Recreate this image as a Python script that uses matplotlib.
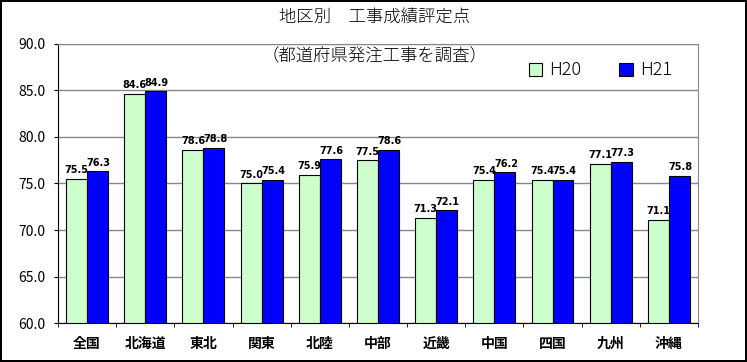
import numpy as np
import matplotlib.pyplot as plt

plt.rcParams['font.family'] = ['Noto Sans CJK JP', 'DejaVu Sans']

regions = ['全国', '北海道', '東北', '関東', '北陸', '中部', '近畿', '中国', '四国', '九州', '沖縄']
h20 = [75.5, 84.6, 78.6, 75.0, 75.9, 77.5, 71.3, 75.4, 75.4, 77.1, 71.1]
h21 = [76.3, 84.9, 78.8, 75.4, 77.6, 78.6, 72.1, 76.2, 75.4, 77.3, 75.8]
yticks = [60.0, 65.0, 70.0, 75.0, 80.0, 85.0, 90.0]

fig = plt.figure(figsize=(7.47, 3.62), dpi=100)
fig.patch.set_edgecolor('black')
fig.patch.set_linewidth(1.5)
ax = fig.add_axes([0.0776, 0.1077, 0.8568, 0.7708])

x = np.arange(len(regions))
w = 0.36
ax.bar(x - w / 2, np.array(h20) - 60, w, bottom=60, color='#ccffcc', edgecolor='black', linewidth=0.8, label='H20', zorder=3)
ax.bar(x + w / 2, np.array(h21) - 60, w, bottom=60, color='#0000ff', edgecolor='black', linewidth=0.8, label='H21', zorder=3)

# 値ラベル
for xi, v in zip(x, h20):
    ax.text(xi - w / 2, v + 0.4, f'{v:.1f}', ha='center', va='bottom', fontsize=7, fontweight='bold', family='Liberation Sans Narrow')
for xi, v in zip(x, h21):
    ax.text(xi + w / 2 + 0.02, v + 0.4, f'{v:.1f}', ha='center', va='bottom', fontsize=7, fontweight='bold', family='Liberation Sans Narrow')

ax.set_xlim(-0.5, len(regions) - 0.5)
ax.set_ylim(60, 90)
ax.set_yticks(yticks)
ax.set_yticklabels([f'{t:.1f}' for t in yticks], fontsize=10)
ax.yaxis.grid(True, color='#888888', linewidth=1, zorder=0)
ax.set_xticks(x)
ax.set_xticklabels(regions, fontsize=10, fontweight='bold')
ax.set_xticks(np.arange(-0.5, len(regions)), minor=True)
ax.tick_params(axis='x', which='major', length=0, pad=10)
ax.tick_params(axis='x', which='minor', length=3, direction='out')
ax.tick_params(axis='y', length=3, direction='out', pad=6)

ax.spines['top'].set_color('#888888')
ax.spines['right'].set_color('#888888')
ax.spines['left'].set_color('black')
ax.spines['bottom'].set_color('black')

fig.text(0.502, 0.953, '地区別　工事成績評定点', ha='center', va='center', fontsize=12.5, fontweight='light')
fig.text(0.502, 0.845, '（都道府県発注工事を調査）', ha='center', va='center', fontsize=12.5, fontweight='light')

leg = ax.legend(loc='center right', bbox_to_anchor=(0.985, 0.905), ncol=2, frameon=False, fontsize=13,
                handlelength=0.75, handleheight=0.75, columnspacing=2.1, handletextpad=0.4)
for t in leg.get_texts():
    t.set_fontweight('light')

fig.savefig('out.png', dpi=100)
